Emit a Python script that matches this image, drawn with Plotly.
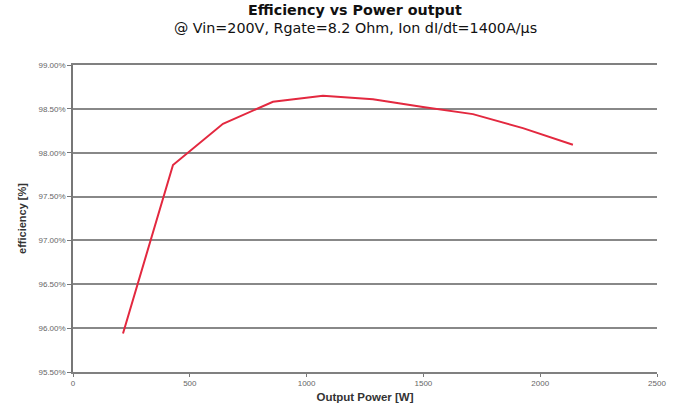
import plotly.graph_objects as go

power_w = [214, 428, 642, 856, 1070, 1284, 1498, 1712, 1926, 2140]
efficiency_pct = [95.94, 97.86, 98.33, 98.58, 98.65, 98.61, 98.52, 98.44, 98.28, 98.09]
y_ticks = [95.5, 96.0, 96.5, 97.0, 97.5, 98.0, 98.5, 99.0]
y_tick_labels = [f"{v:.2f}%" for v in y_ticks]
x_ticks = [0, 500, 1000, 1500, 2000, 2500]

fig = go.Figure()
fig.add_trace(go.Scatter(
    x=power_w, y=efficiency_pct, mode="lines",
    line=dict(color="#e3283f", width=2),
    showlegend=False, hoverinfo="skip"))

fig.update_layout(
    width=680, height=414,
    margin=dict(l=73, r=23, t=65, b=38),
    paper_bgcolor="white", plot_bgcolor="white",
    font=dict(family="Liberation Sans, Arial", color="#333"),
    xaxis=dict(range=[0, 2500], tickvals=x_ticks, ticktext=[str(v) for v in x_ticks],
               showgrid=False, zeroline=False, showline=True, mirror=True,
               linecolor="#808080", linewidth=1.5,
               ticks="outside", ticklen=3, tickcolor="#777",
               tickfont=dict(size=8, color="#666"),
               title=dict(text="<b>Output Power [W]</b>", font=dict(size=11.5, color="#333"), standoff=6)),
    yaxis=dict(range=[95.5, 99.0], tickvals=y_ticks, ticktext=y_tick_labels,
               showgrid=True, gridcolor="#888", gridwidth=1.5, zeroline=False,
               showline=True, linecolor="#777", linewidth=1.5,
               ticks="outside", ticklen=4, tickcolor="#777",
               tickfont=dict(size=8, color="#666"),
               title=dict(text="<b>efficiency [%]</b>", font=dict(size=11, color="#333"), standoff=10)),
)
fig.add_annotation(text="<b>Efficiency vs Power output</b>", xref="paper", yref="paper",
                   x=0.483, y=1.0, yshift=55, showarrow=False, yanchor="middle",
                   font=dict(family="DejaVu Sans", size=14.3, color="#111"))
fig.add_annotation(text="@ Vin=200V, Rgate=8.2 Ohm, Ion dI/dt=1400A/µs", xref="paper", yref="paper",
                   x=0.483, y=1.0, yshift=37, showarrow=False, yanchor="middle",
                   font=dict(family="DejaVu Sans", size=14.3, color="#111"))

fig.write_html("out.html")
